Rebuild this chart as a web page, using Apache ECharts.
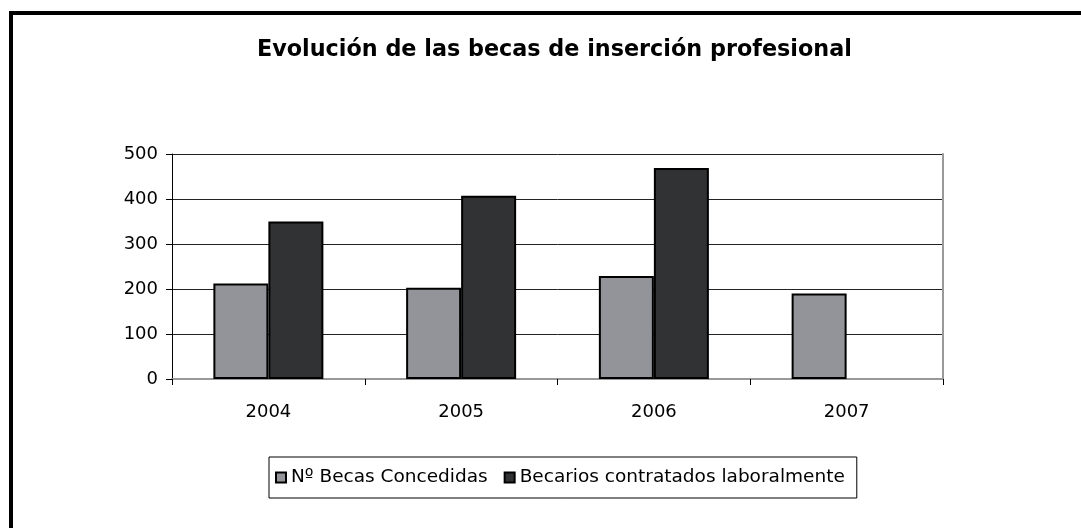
<!DOCTYPE html>
<html>
<head>
<meta charset="utf-8">
<script src="https://cdn.jsdelivr.net/npm/echarts@6/dist/echarts.min.js"></script>
<style>
  html, body { margin: 0; padding: 0; background: #fff; }
  #chart { width: 1081px; height: 528px; }
</style>
</head>
<body>
<div id="chart"></div>
<script>
// Becas de inserción profesional por año
const years = ['2004', '2005', '2006', '2007'];
const becasConcedidas = [212, 203, 229, 190];
const becariosContratados = [350, 407, 469, null];
const yTicks = { min: 0, max: 500, interval: 100 };

const FONT = '"DejaVu Sans", "Liberation Sans", Arial, sans-serif';
const chart = echarts.init(document.getElementById('chart'), null, { renderer: 'canvas' });

chart.setOption({
  animation: false,
  backgroundColor: '#ffffff',
  textStyle: { fontFamily: FONT },
  title: {
    text: 'Evolución de las becas de inserción profesional',
    left: 252,
    top: 34,
    textStyle: { fontFamily: FONT, fontSize: 22.3, fontWeight: 'bold', color: '#000' }
  },
  legend: {
    bottom: 30,
    left: 269,
    itemWidth: 10,
    itemHeight: 10,
    itemGap: 16,
    padding: [11, 12, 11, 6],
    borderColor: '#000',
    borderWidth: 1,
    icon: 'rect',
    textStyle: { fontFamily: FONT, fontSize: 18.5, color: '#000', padding: [0, 0, 0, 0] },
    data: ['Nº Becas Concedidas', 'Becarios contratados laboralmente']
  },
  grid: { left: 172, right: 138, top: 154, bottom: 149, containLabel: false },
  xAxis: [{
    type: 'category',
    data: years,
    boundaryGap: true,
    axisLine: { show: true, lineStyle: { color: '#000', width: 1 } },
    axisTick: { show: true, length: 6, lineStyle: { color: '#000' }, alignWithLabel: false },
    axisLabel: { fontFamily: FONT, fontSize: 18, color: '#000', margin: 24 },
    splitLine: { show: false }
  }, {
    type: 'category',
    position: 'top',
    data: years,
    axisLine: { show: true, lineStyle: { color: '#999', width: 2 } },
    axisTick: { show: false },
    axisLabel: { show: false }
  }],
  yAxis: [{
    type: 'value',
    min: yTicks.min,
    max: yTicks.max,
    interval: yTicks.interval,
    axisLine: { show: true, lineStyle: { color: '#000', width: 1 } },
    axisTick: { show: true, length: 6, lineStyle: { color: '#000' } },
    axisLabel: { fontFamily: FONT, fontSize: 18, color: '#000', margin: 14 },
    splitLine: { show: true, lineStyle: { color: '#222', width: 1 } }
  }, {
    type: 'value',
    position: 'right',
    min: yTicks.min,
    max: yTicks.max,
    interval: yTicks.interval,
    axisLine: { show: true, lineStyle: { color: '#999', width: 2 } },
    axisTick: { show: false },
    axisLabel: { show: false },
    splitLine: { show: false }
  }],
  series: [{
    name: 'Nº Becas Concedidas',
    type: 'bar',
    data: becasConcedidas,
    barWidth: 55,
    barGap: '0%',
    itemStyle: { color: '#939499', borderColor: '#000', borderWidth: 2 }
  }, {
    name: 'Becarios contratados laboralmente',
    type: 'bar',
    data: becariosContratados,
    barWidth: 55,
    barGap: '0%',
    itemStyle: { color: '#313234', borderColor: '#000', borderWidth: 2 }
  }],
  graphic: [{
    type: 'line',
    shape: { x1: 9, y1: 13, x2: 1081, y2: 13 },
    style: { stroke: '#000', lineWidth: 4 }
  }, {
    type: 'line',
    shape: { x1: 11, y1: 11, x2: 11, y2: 528 },
    style: { stroke: '#000', lineWidth: 4 }
  }]
});
</script>
</body>
</html>
